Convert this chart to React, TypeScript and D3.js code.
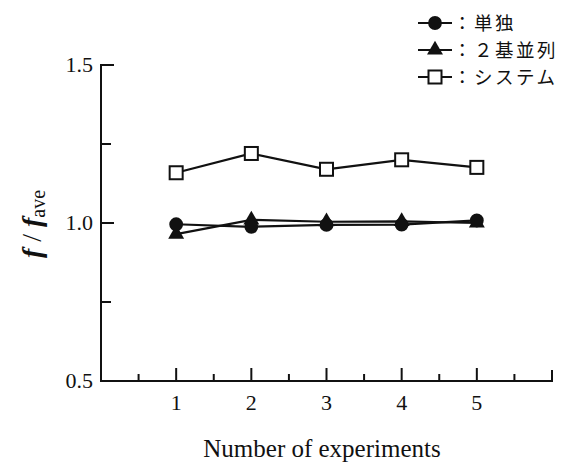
import * as d3 from "d3";
import { useEffect, useRef } from "react";

const experiments = [1, 2, 3, 4, 5];
const single = [0.996, 0.988, 0.994, 0.995, 1.008];
const parallel = [0.965, 1.01, 1.004, 1.005, 1.0];
const system = [1.159, 1.22, 1.17, 1.2, 1.176];
const seriesNames = ["：単独", "：２基並列", "：システム"];
const yTickLabels = ["0.5", "1.0", "1.5"];

const W = 575;
const H = 465;
const serif = "Liberation Serif";

const draw = (svgEl: SVGSVGElement) => {
  const svg = d3.select(svgEl);
  svg.selectAll("*").remove();

  const x = d3.scaleLinear().domain([0, 6]).range([101, 552]);
  const y = d3.scaleLinear().domain([0.5, 1.5]).range([381, 65]);

  const ax = svg.append("g").attr("stroke", "#111").attr("stroke-width", 2).attr("fill", "none");

  // axis frame
  ax.append("path").attr("d", `M${x(0) + 13},${y(1.5)}H${x(0)}V${y(0.5)}H${x(6)}V${y(0.5) - 11}`);

  // y ticks
  [1.0].forEach(v => ax.append("line").attr("x1", x(0)).attr("x2", x(0) + 13).attr("y1", y(v)).attr("y2", y(v)));
  [0.75, 1.25].forEach(v => ax.append("line").attr("x1", x(0)).attr("x2", x(0) + 10).attr("y1", y(v)).attr("y2", y(v)));

  // x ticks
  experiments.forEach(v => ax.append("line").attr("x1", x(v)).attr("x2", x(v)).attr("y1", y(0.5)).attr("y2", y(0.5) - 13));
  d3.range(0.5, 6, 1).forEach(v => ax.append("line").attr("x1", x(v)).attr("x2", x(v)).attr("y1", y(0.5)).attr("y2", y(0.5) - 7));

  // tick labels
  svg.append("g").selectAll("text").data(yTickLabels).join("text")
    .attr("x", x(0) - 8).attr("y", d => y(+d) + 7)
    .attr("text-anchor", "end").style("font-family", serif).style("font-size", "22px").attr("fill", "#111")
    .text(d => d);

  svg.append("g").selectAll("text").data(experiments).join("text")
    .attr("x", d => x(d)).attr("y", y(0.5) + 29)
    .attr("text-anchor", "middle").style("font-family", serif).style("font-size", "22px").attr("fill", "#111")
    .text(d => d);

  svg.append("text").attr("x", 322).attr("y", 457).attr("text-anchor", "middle")
    .style("font-family", serif).style("font-size", "25px").attr("fill", "#111").text("Number of experiments");

  const yl = svg.append("text").attr("transform", `translate(41,${224}) rotate(-90)`)
    .attr("text-anchor", "middle").style("font-family", serif).style("font-size", "28px").attr("fill", "#111");
  yl.append("tspan").style("font-style", "italic").style("font-weight", "bold").text("f");
  yl.append("tspan").text(" / ");
  yl.append("tspan").style("font-style", "italic").style("font-weight", "bold").text("f");
  yl.append("tspan").style("font-size", "20px").attr("dy", 4).text("ave");

  const line = d3.line<number>().x((_, i) => x(experiments[i])).y(d => y(d));
  const data = [single, parallel, system];
  const lines = svg.append("g").attr("fill", "none").attr("stroke", "#111").attr("stroke-width", 2.2);
  data.forEach(s => lines.append("path").attr("d", line(s)));

  const circ = d3.symbol(d3.symbolCircle, 150);
  const tri = d3.symbol(d3.symbolTriangle, 110);

  const marker = (g: d3.Selection<SVGGElement, unknown, null, undefined>, k: number, cx: number, cy: number) => {
    if (k === 0) g.append("path").attr("d", circ()).attr("transform", `translate(${cx},${cy})`).attr("fill", "#111");
    else if (k === 1) g.append("path").attr("d", tri()).attr("transform", `translate(${cx},${cy})`).attr("fill", "#111");
    else g.append("rect").attr("x", cx - 6.5).attr("y", cy - 6.5).attr("width", 13).attr("height", 13)
      .attr("fill", "#fff").attr("stroke", "#111").attr("stroke-width", 2);
  };

  const marks = svg.append("g");
  [2, 1, 0].forEach(k => data[k].forEach((v, i) => marker(marks, k, x(experiments[i]), y(v))));

  // legend
  const lg = svg.append("g");
  const rowY = [23, 50, 77];
  seriesNames.forEach((name, k) => {
    lg.append("line").attr("x1", 418).attr("x2", 452).attr("y1", rowY[k]).attr("y2", rowY[k])
      .attr("stroke", "#111").attr("stroke-width", 2);
    marker(lg, k, 435, rowY[k]);
    lg.append("text").attr("x", 453).attr("y", rowY[k] + 7)
      .style("font-family", "Noto Sans CJK JP").style("font-size", "18.5px").style("letter-spacing", "2.5px")
      .attr("fill", "#111").text(name);
  });
};

export default function App() {
  const ref = useRef<SVGSVGElement>(null);
  useEffect(() => {
    if (ref.current) draw(ref.current);
  }, []);
  return (
    <div style={{ position: "absolute", left: 0, top: 0 }}>
      <svg ref={ref} width={W} height={H} style={{ display: "block", background: "#fff" }} />
    </div>
  );
}
